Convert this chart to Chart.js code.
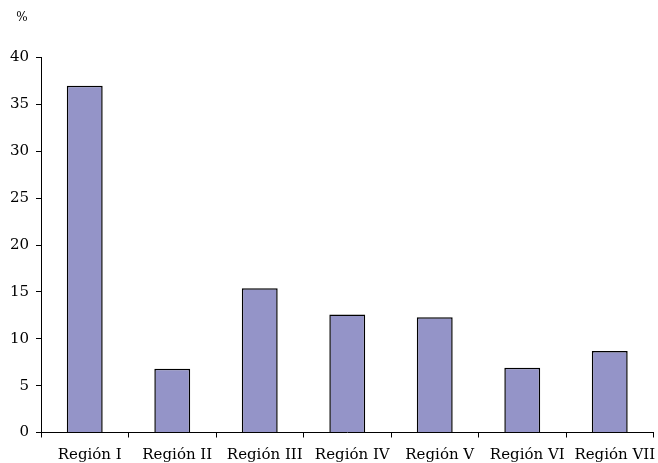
<!DOCTYPE html>
<html>
<head>
<meta charset="utf-8">
<script src="https://cdn.jsdelivr.net/npm/chart.js@4/dist/chart.umd.min.js"></script>
<style>
  html, body { margin: 0; padding: 0; background: #fff; }
  #wrap { width: 658px; height: 463px; position: relative; }
</style>
</head>
<body>
<div id="wrap"><canvas id="chart"></canvas></div>
<script>
// regions and share (%) for each
const regions = ["Región I", "Región II", "Región III", "Región IV", "Región V", "Región VI", "Región VII"];
const shares = [37.0, 6.8, 15.4, 12.6, 12.3, 6.9, 8.7];
const yTicks = [0, 5, 10, 15, 20, 25, 30, 35, 40];

const font = "'DejaVu Serif', serif";

// small "%" unit label above the y axis
const unitLabel = {
    id: "unitLabel",
    afterDraw(chart) {
        const ctx = chart.ctx;
        ctx.save();
        ctx.font = "12px " + font;
        ctx.fillStyle = "#000";
        ctx.textAlign = "center";
        ctx.textBaseline = "middle";
        ctx.fillText("%", 22, 18);
        ctx.restore();
    }
};

new Chart(document.getElementById("chart").getContext("2d"), {
    type: "bar",
    data: {
        labels: regions,
        datasets: [{
            data: shares,
            backgroundColor: "#9494c8",
            borderColor: "#000",
            borderWidth: 1.5,
            barPercentage: 0.41,
            categoryPercentage: 1
        }]
    },
    options: {
        responsive: true,
        maintainAspectRatio: false,
        animation: false,
        layout: { padding: { top: 57.5, right: 4.5, left: 0, bottom: 0 } },
        plugins: {
            legend: { display: false },
            tooltip: { enabled: false }
        },
        scales: {
            x: {
                border: { color: "#000", width: 1 },
                grid: {
                    offset: true,
                    drawOnChartArea: false,
                    drawTicks: true,
                    tickLength: 5,
                    color: "#000"
                },
                ticks: {
                    color: "#000",
                    font: { family: font, size: 15 },
                    padding: 9,
                    labelOffset: 5,
                    maxRotation: 0,
                    autoSkip: false
                },
                afterFit(scale) {
                    // keep the axis span fixed; the last label may run to the edge
                    scale.height = 30.5;
                    scale.paddingLeft = 0;
                    scale.paddingRight = 0;
                }
            },
            y: {
                min: 0,
                max: 40,
                afterBuildTicks(scale) { scale.ticks = yTicks.map(v => ({ value: v })); },
                border: { color: "#000", width: 1 },
                grid: {
                    drawOnChartArea: false,
                    drawTicks: true,
                    tickLength: 5,
                    color: "#000"
                },
                ticks: {
                    color: "#000",
                    font: { family: font, size: 15 },
                    padding: 7
                },
                afterFit(scale) { scale.width = 41; }
            }
        }
    },
    plugins: [unitLabel]
});
</script>
</body>
</html>
